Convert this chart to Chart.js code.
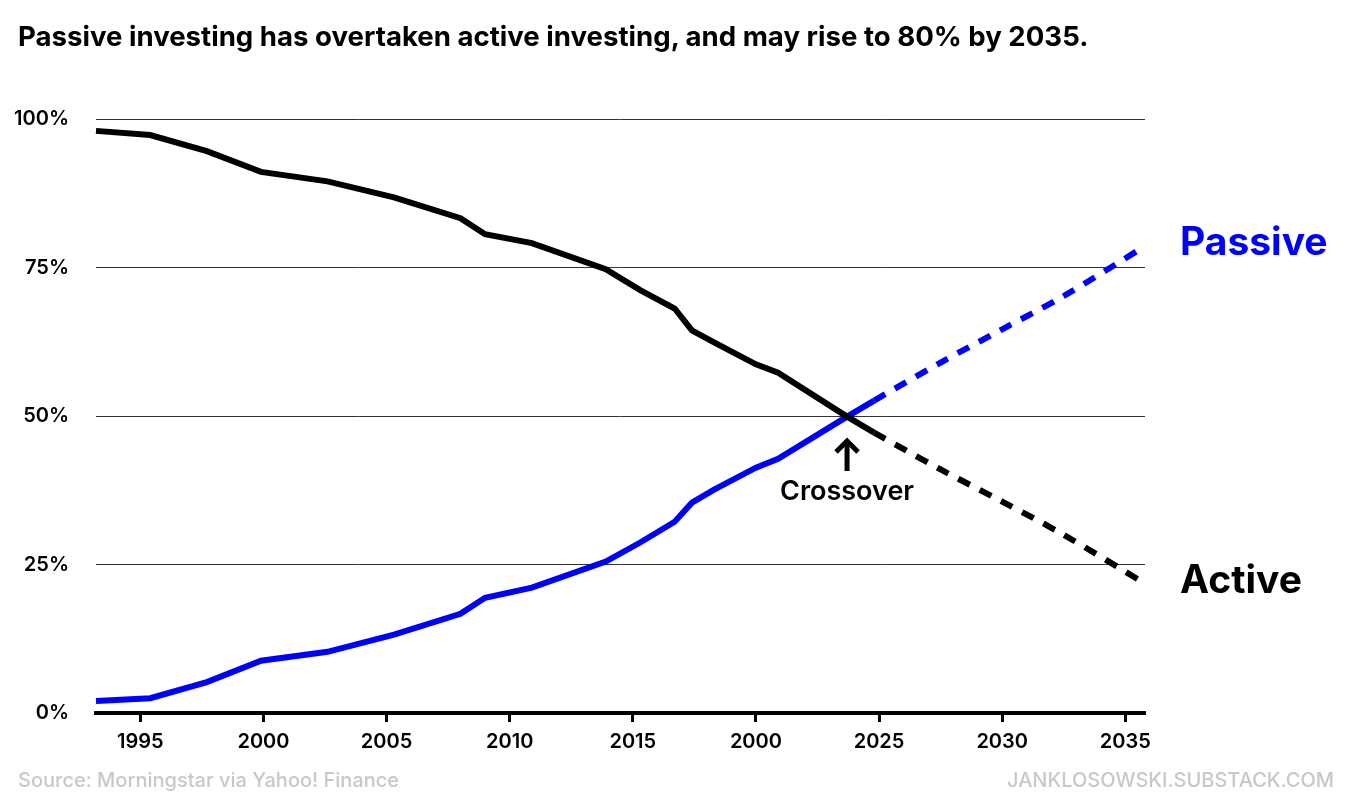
<!DOCTYPE html>
<html>
<head>
<meta charset="utf-8">
<script src="https://cdn.jsdelivr.net/npm/chart.js@4.4.1/dist/chart.umd.min.js"></script>
<style>
  body { margin: 0; background: #fff; font-family: Inter, "Noto Sans", sans-serif; }
  #wrap { position: relative; width: 1356px; height: 810px; }
  #title { position: absolute; left: 18px; top: 19px; font-size: 27.6px; font-weight: 700; color: #000; white-space: nowrap; }
  .foot { position: absolute; top: 768px; font-size: 20px; font-weight: 500; color: #c8c8c8; white-space: nowrap; }
  #source { left: 18px; }
  #credit { right: 22px; }
</style>
</head>
<body>
<div id="wrap">
  <canvas id="myChart" width="1356" height="810"></canvas>
  <div id="title">Passive investing has overtaken active investing, and may rise to 80% by 2035.</div>
  <div class="foot" id="source">Source: Morningstar via Yahoo! Finance</div>
  <div class="foot" id="credit">JANKLOSOWSKI.SUBSTACK.COM</div>
</div>
<script>
// historical share of fund assets (%)
const years = [1993.2, 1995.4, 1997.7, 1999.9, 2002.6, 2005.3, 2008.0, 2009.0, 2010.9, 2013.9, 2015.3, 2016.7, 2017.4, 2018.3, 2020.0, 2020.9, 2023.7, 2024.8];
const activeValues = [98.0, 97.3, 94.6, 91.1, 89.5, 86.8, 83.3, 80.6, 79.1, 74.7, 71.2, 68.1, 64.4, 62.4, 58.7, 57.3, 49.9, 47.2];
const passiveValues = [2.0, 2.5, 5.2, 8.8, 10.3, 13.2, 16.7, 19.4, 21.1, 25.5, 28.7, 32.2, 35.4, 37.6, 41.3, 42.8, 49.9, 52.6];

// projection
const projYears = [2024.8, 2027.5, 2030.0, 2032.5, 2035.8];
const activeProj = [47.2, 41.0, 35.6, 30.0, 21.8];
const passiveProj = [52.6, 59.0, 64.6, 70.2, 78.6];

const tickYears = [1995, 2000, 2005, 2010, 2015, 2020, 2025, 2030, 2035];
const tickLabels = ["1995", "2000", "2005", "2010", "2015", "2000", "2025", "2030", "2035"];

const crossoverYear = 2023.7;
const crossoverValue = 50;

const blue = "#0000ff";

function toPoints(xs, ys) {
  return xs.map((x, i) => ({ x: x, y: ys[i] }));
}

const annotations = {
  id: "annotations",
  afterDatasetsDraw(chart) {
    const c = chart.ctx;
    const xs = chart.scales.x;
    const ys = chart.scales.y;
    c.save();
    // end labels
    c.font = "700 39px Inter";
    c.textBaseline = "middle";
    c.textAlign = "left";
    c.fillStyle = blue;
    c.fillText("Passive", xs.right + 35, ys.getPixelForValue(passiveProj[passiveProj.length - 1]) - 3);
    c.fillStyle = "#000";
    c.fillText("Active", xs.right + 35, ys.getPixelForValue(activeProj[activeProj.length - 1]) - 2);

    // crossover arrow
    const cx = xs.getPixelForValue(crossoverYear);
    const cy = ys.getPixelForValue(crossoverValue);
    c.strokeStyle = "#000";
    c.lineWidth = 5;
    c.beginPath();
    c.moveTo(cx, cy + 55);
    c.lineTo(cx, cy + 25);
    c.stroke();
    c.beginPath();
    c.moveTo(cx - 11, cy + 36);
    c.lineTo(cx, cy + 25);
    c.lineTo(cx + 11, cy + 36);
    c.stroke();
    c.font = "600 27px Inter";
    c.textAlign = "center";
    c.fillText("Crossover", cx, cy + 76);
    c.restore();
  }
};

const ctx = document.getElementById("myChart");

new Chart(ctx, {
  type: "line",
  data: {
    datasets: [
      {
        label: "Active",
        data: toPoints(years, activeValues),
        borderColor: "#000",
        borderWidth: 6,
        pointRadius: 0,
        tension: 0,
      },
      {
        label: "Passive",
        data: toPoints(years, passiveValues),
        borderColor: blue,
        borderWidth: 6,
        pointRadius: 0,
        tension: 0,
      },
      {
        label: "Active projection",
        data: toPoints(projYears, activeProj),
        borderColor: "#000",
        borderWidth: 6,
        borderDash: [13, 11],
        pointRadius: 0,
        tension: 0.3,
      },
      {
        label: "Passive projection",
        data: toPoints(projYears, passiveProj),
        borderColor: blue,
        borderWidth: 6,
        borderDash: [13, 11],
        pointRadius: 0,
        tension: 0.3,
      },
    ],
  },
  options: {
    responsive: false,
    animation: false,
    clip: false,
    layout: { padding: { left: 0, right: 211, top: 119, bottom: 0 } },
    plugins: { legend: { display: false }, tooltip: { enabled: false } },
    scales: {
      x: {
        type: "linear",
        min: 1993.2,
        max: 2035.8,
        afterFit(scale) { scale.height = 97; },
        afterBuildTicks(scale) { scale.ticks = tickYears.map((v) => ({ value: v })); },
        border: { display: true, color: "#000", width: 4 },
        grid: { drawOnChartArea: false, drawTicks: true, tickLength: 9, tickColor: "#000", tickWidth: 3 },
        ticks: {
          padding: 8,
          color: "#000",
          font: { family: "Inter", size: 20, weight: "600" },
          maxRotation: 0,
          callback: (v) => tickLabels[tickYears.indexOf(v)],
        },
      },
      y: {
        min: 0,
        max: 100,
        afterFit(scale) { scale.width = 96; },
        border: { display: false },
        grid: {
          color: (c) => (c.tick.value === 0 ? "rgba(0,0,0,0)" : "#333"),
          lineWidth: 1,
          drawTicks: false,
        },
        ticks: {
          stepSize: 25,
          padding: 27,
          color: "#000",
          font: { family: "Inter", size: 20, weight: "600" },
          callback: (v) => v + "%",
        },
      },
    },
  },
  plugins: [annotations],
});
</script>
</body>
</html>
